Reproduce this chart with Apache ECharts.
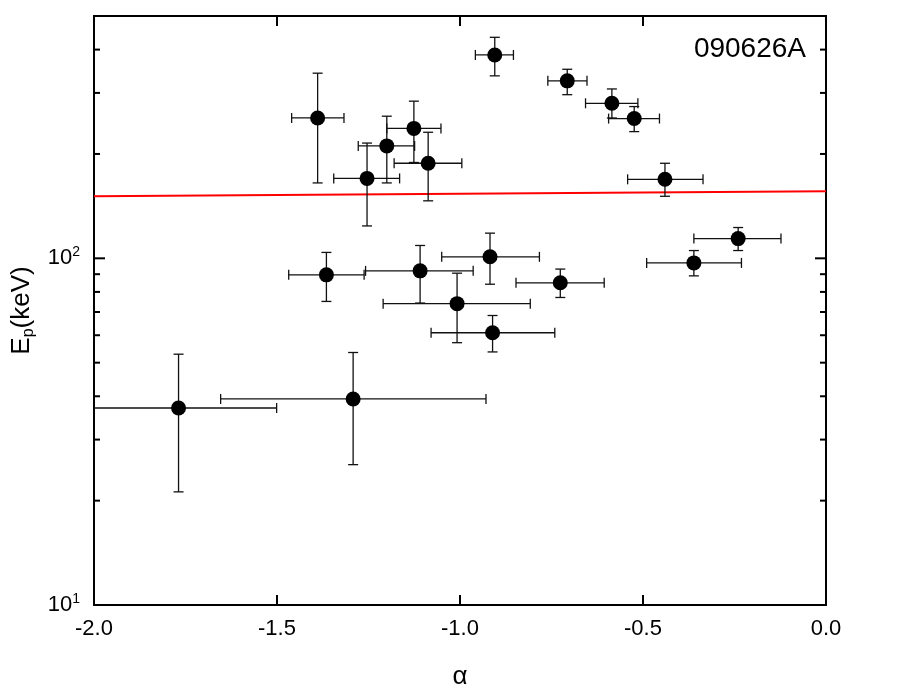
<!DOCTYPE html>
<html>
<head>
<meta charset="utf-8">
<script src="https://cdn.jsdelivr.net/npm/echarts@6/dist/echarts.min.js"></script>
<style>
  html, body { margin: 0; padding: 0; background: #fff; }
  #chart { width: 917px; height: 695px; }
</style>
</head>
<body>
<div id="chart"></div>
<script>
// alpha (x) and Ep (y) with asymmetric error limits
const alpha   = [-1.389, -1.254, -1.200, -1.126, -1.087, -0.905, -0.707, -0.585, -0.524, -0.440, -0.240, -0.361, -0.726, -0.918, -0.911, -1.008, -1.109, -1.365, -1.769, -1.292];
const alphaLo = [-1.460, -1.345, -1.278, -1.200, -1.180, -0.958, -0.760, -0.657, -0.594, -0.542, -0.361, -0.490, -0.847, -1.050, -1.079, -1.210, -1.258, -1.468, -2.040, -1.654];
const alphaHi = [-1.317, -1.165, -1.124, -1.052, -0.995, -0.854, -0.653, -0.514, -0.455, -0.336, -0.123, -0.231, -0.606, -0.783, -0.741, -0.808, -0.964, -1.262, -1.501, -0.929];
const ep      = [254, 170, 211, 237, 188, 386, 325, 280, 253, 169, 114, 97, 85, 101, 61, 74, 92, 89.6, 37, 39.3];
const epLo    = [165, 124, 165, 189, 146.5, 336, 296.5, 254, 232, 151, 105.3, 89, 77.1, 84.2, 53.7, 57.1, 74.3, 75.1, 21.2, 25.4];
const epHi    = [342, 215, 257, 284, 231, 434, 351, 308, 274, 188, 122.7, 105.3, 93.1, 118.2, 68.4, 90.6, 108.9, 104.0, 52.9, 53.5];

// red reference line
const lineAlpha = [-2.0, 0.0];
const lineEp = [151, 156];

// axes
const xMin = -2.0, xMax = 0.0, xStep = 0.5;
const yMin = 10, yMax = 500;
const yMajorTicks = [10, 100];
const yMajorExps = ['1', '2'];
const yMinorTicks = [20, 30, 40, 50, 60, 70, 80, 90, 200, 300, 400];

const burstName = '090626A';

const FONT = 'Arial, "Liberation Sans", Helvetica, sans-serif';

const chart = echarts.init(document.getElementById('chart'));

const errData = alpha.map((a, i) => [a, ep[i], alphaLo[i], alphaHi[i], epLo[i], epHi[i]]);
const tickData = yMajorTicks.map((v) => [xMin, v, 1]).concat(yMinorTicks.map((v) => [xMin, v, 0]));

const renderErr = (params, api) => {
  const x = api.value(0);
  const y = api.value(1);
  const pL = api.coord([api.value(2), y]);
  const pR = api.coord([api.value(3), y]);
  const pB = api.coord([x, api.value(4)]);
  const pT = api.coord([x, api.value(5)]);
  const c = 5;
  const style = { stroke: '#111', lineWidth: 1.3 };
  const seg = (x1, y1, x2, y2) => ({ type: 'line', shape: { x1, y1, x2, y2 }, style });
  return {
    type: 'group',
    children: [
      seg(pL[0], pL[1], pR[0], pR[1]),
      seg(pL[0], pL[1] - c, pL[0], pL[1] + c),
      seg(pR[0], pR[1] - c, pR[0], pR[1] + c),
      seg(pB[0], pB[1], pT[0], pT[1]),
      seg(pB[0] - c, pB[1], pB[0] + c, pB[1]),
      seg(pT[0] - c, pT[1], pT[0] + c, pT[1])
    ]
  };
};

const renderTick = (params, api) => {
  const y = api.value(1);
  const len = api.value(2) ? 11 : 6;
  const l = api.coord([xMin, y]);
  const r = api.coord([xMax, y]);
  const style = { stroke: '#000', lineWidth: 2 };
  return {
    type: 'group',
    children: [
      { type: 'line', shape: { x1: l[0], y1: l[1], x2: l[0] + len, y2: l[1] }, style },
      { type: 'line', shape: { x1: r[0], y1: r[1], x2: r[0] - len, y2: r[1] }, style }
    ]
  };
};

const option = {
  animation: false,
  backgroundColor: '#fff',
  textStyle: { fontFamily: FONT },
  title: {
    text: burstName,
    right: 111,
    top: 35,
    padding: 0,
    textStyle: { fontFamily: FONT, fontSize: 28, fontWeight: 'normal', color: '#000' }
  },
  grid: {
    left: 94,
    right: 91,
    top: 16,
    bottom: 90,
    show: true,
    borderColor: '#000',
    borderWidth: 2,
    backgroundColor: 'transparent'
  },
  xAxis: [
    {
      type: 'value',
      min: xMin,
      max: xMax,
      interval: xStep,
      name: 'α',
      nameLocation: 'middle',
      nameGap: 59,
      nameTextStyle: { fontFamily: FONT, fontSize: 26, color: '#000' },
      axisLine: { show: true, lineStyle: { color: '#000', width: 2 } },
      axisTick: { show: true, inside: true, length: 10, lineStyle: { color: '#000', width: 2 } },
      axisLabel: {
        margin: 13,
        fontFamily: FONT,
        fontSize: 22,
        color: '#000',
        formatter: (v) => v.toFixed(1)
      },
      splitLine: { show: false }
    },
    {
      type: 'value',
      position: 'top',
      min: xMin,
      max: xMax,
      interval: xStep,
      axisLine: { show: true, lineStyle: { color: '#000', width: 2 } },
      axisTick: { show: true, inside: true, length: 10, lineStyle: { color: '#000', width: 2 } },
      axisLabel: { show: false },
      splitLine: { show: false }
    }
  ],
  yAxis: {
    type: 'log',
    logBase: 10,
    min: yMin,
    max: yMax,
    name: '{n|E}{p|p}{n|(keV)}',
    nameLocation: 'middle',
    nameRotate: 90,
    nameGap: 50,
    nameTextStyle: {
      rich: {
        n: { fontFamily: FONT, fontSize: 26, color: '#000', lineHeight: 30 },
        p: { fontFamily: FONT, fontSize: 16, color: '#000', verticalAlign: 'bottom', lineHeight: 30, padding: [8, 0, 0, 0] }
      }
    },
    axisLine: { show: true, lineStyle: { color: '#000', width: 2 } },
    axisTick: { show: false },
    axisLabel: {
      margin: 14,
      formatter: (v) => {
        const i = yMajorTicks.findIndex((t) => Math.abs(v - t) / t < 1e-6);
        return i < 0 ? '' : '{b|10}{s|' + yMajorExps[i] + '}';
      },
      rich: {
        b: { fontFamily: FONT, fontSize: 22, color: '#000', lineHeight: 26 },
        s: { fontFamily: FONT, fontSize: 14, color: '#000', verticalAlign: 'top', lineHeight: 16 }
      }
    },
    splitLine: { show: false }
  },
  series: [
    {
      name: 'fit',
      type: 'line',
      data: lineAlpha.map((a, i) => [a, lineEp[i]]),
      symbol: 'none',
      lineStyle: { color: '#ff0000', width: 2 },
      z: 2
    },
    {
      name: 'errors',
      type: 'custom',
      renderItem: renderErr,
      data: errData,
      encode: { x: 0, y: 1 },
      clip: true,
      z: 3
    },
    {
      name: 'points',
      type: 'scatter',
      data: alpha.map((a, i) => [a, ep[i]]),
      symbol: 'circle',
      symbolSize: 15,
      itemStyle: { color: '#000', opacity: 1 },
      z: 4
    },
    {
      name: 'yticks',
      type: 'custom',
      renderItem: renderTick,
      data: tickData,
      encode: { x: 0, y: 1 },
      silent: true,
      z: 5
    }
  ]
};

chart.setOption(option);
</script>
</body>
</html>
